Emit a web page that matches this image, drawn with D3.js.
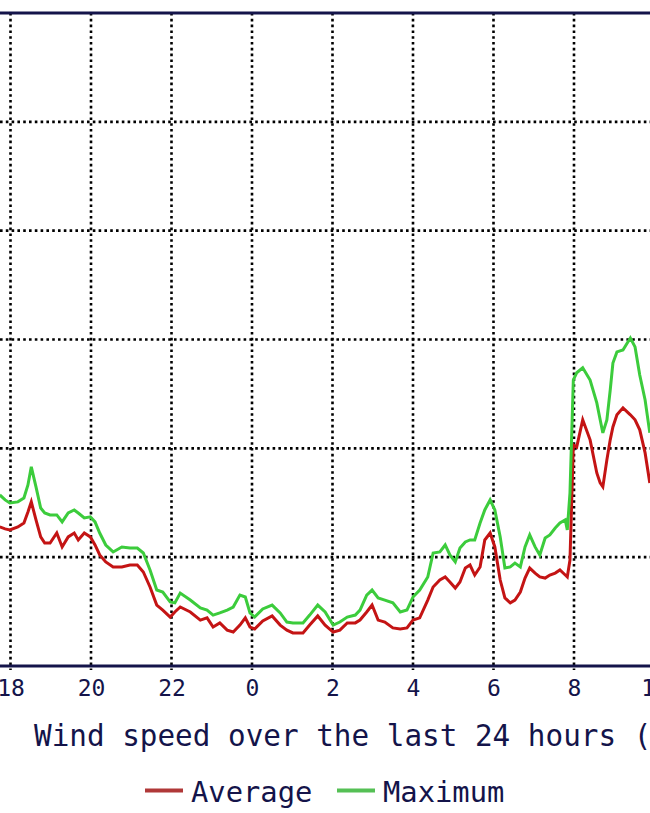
<!DOCTYPE html>
<html>
<head>
<meta charset="utf-8">
<script src="https://cdn.jsdelivr.net/npm/d3@7/dist/d3.min.js"></script>
<style>
  html, body { margin: 0; padding: 0; background: #ffffff; }
  svg { display: block; }
</style>
</head>
<body>
<script>
// Minutes since 18:00 for each sample
const minutes = [-16,-8,-1,11,20,26,31,38,45,51,59,69,77,86,95,101,110,119,126,133,142,153,166,178,189,198,208,218,227,238,245,253,268,283,293,302,312,323,332,342,350,357,364,376,390,402,412,421,436,446,458,469,481,491,502,514,521,531,539,548,558,570,581,591,600,610,622,630,640,648,655,663,670,678,685,692,700,707,715,722,730,737,745,752,760,767,774,782,789,797,804,812,819,827,830,834,839,844,853,864,874,879,883,889,894,898,904,913,924,931,938,946,953];
// Maximum wind speed
const maximum = [7.86,7.63,7.49,7.54,7.72,8.32,9.15,8.23,7.26,7.03,6.94,6.94,6.62,7.03,7.17,7.03,6.80,6.85,6.62,6.11,5.56,5.24,5.47,5.42,5.42,5.19,4.41,3.49,3.40,2.94,2.90,3.35,3.03,2.67,2.57,2.34,2.44,2.57,2.71,3.26,3.17,2.44,2.25,2.62,2.80,2.44,2.02,1.98,1.98,2.34,2.80,2.48,1.88,2.02,2.25,2.34,2.57,3.26,3.49,3.13,3.03,2.90,2.48,2.57,3.17,3.49,4.09,5.19,5.24,5.56,5.10,4.78,5.42,5.70,5.79,5.79,6.57,7.17,7.63,7.17,5.93,4.50,4.55,4.73,4.55,5.47,6.02,5.47,5.10,5.88,6.02,6.34,6.57,6.71,6.25,7.95,13.14,13.47,13.70,13.14,12.09,11.31,10.71,11.31,12.68,13.92,14.43,14.52,15.07,14.66,13.37,12.22,10.71];
// Average wind speed
const average = [6.39,6.30,6.25,6.39,6.57,7.08,7.54,6.71,5.93,5.65,5.65,6.11,5.47,5.93,6.11,5.79,6.11,5.93,5.56,5.10,4.78,4.55,4.55,4.64,4.64,4.32,3.63,2.80,2.57,2.25,2.48,2.71,2.48,2.11,2.21,1.79,1.98,1.65,1.56,1.88,2.21,1.79,1.70,2.07,2.30,1.88,1.65,1.52,1.52,1.88,2.30,1.88,1.56,1.65,1.98,1.98,2.11,2.48,2.80,2.11,2.02,1.75,1.70,1.75,2.11,2.21,3.03,3.63,3.95,4.09,3.86,3.58,3.86,4.50,4.64,4.18,4.55,5.79,6.11,5.47,3.95,3.13,2.90,3.03,3.40,4.04,4.50,4.27,4.09,4.04,4.18,4.27,4.41,4.18,4.09,4.87,10.16,10.06,11.31,10.39,8.87,8.41,8.23,9.47,10.39,10.98,11.54,11.86,11.54,11.31,10.85,9.79,8.41];
// Hour tick positions (minutes since 18:00) and their labels
const tickMinutes = [0,120,240,360,480,600,720,840,960];
const tickLabels = ["18","20","22","0","2","4","6","8","10"];
const gridValues = [5,10,15,20,25];
const seriesNames = ["Average","Maximum"];
const seriesColors = ["#c41414","#3ccc3c"];
const legendColors = ["#b03838","#55c055"];
const titleText = "Wind speed over the last 24 hours (km/h)";

const W = 650, H = 813;
const svg = d3.select("body").append("svg").attr("width", W).attr("height", H);
svg.append("rect").attr("width", W).attr("height", H).attr("fill", "#ffffff");

const x = d3.scaleLinear().domain([0, 840]).range([10.5, 574]);
const y = d3.scaleLinear().domain([0, 30]).range([666, 13]);
const navy = "#14144a";
const mono = "'DejaVu Sans Mono', 'Liberation Mono', monospace";

// horizontal dotted grid
svg.append("g").selectAll("line").data(gridValues).join("line")
  .attr("x1", 0).attr("x2", W)
  .attr("y1", d => y(d)).attr("y2", d => y(d))
  .attr("stroke", "#000").attr("stroke-width", 2.6)
  .attr("stroke-dasharray", "2.6,3.2");

// vertical dotted grid
svg.append("g").selectAll("line").data(tickMinutes).join("line")
  .attr("x1", d => x(d)).attr("x2", d => x(d))
  .attr("y1", y(30)).attr("y2", y(0) + 4)
  .attr("stroke", "#000").attr("stroke-width", 2.6)
  .attr("stroke-dasharray", "2.6,3.2");

// top frame line
svg.append("line").attr("x1", 0).attr("x2", W).attr("y1", y(30)).attr("y2", y(30))
  .attr("stroke", navy).attr("stroke-width", 3);

// x axis (baseline + labels)
const xAxis = d3.axisBottom(x).tickValues(tickMinutes)
  .tickFormat((d, i) => tickLabels[i]).tickSize(0).tickPadding(14);
const gx = svg.append("g").attr("transform", `translate(0,${y(0)})`).call(xAxis);
gx.select(".domain").remove();
gx.selectAll("text").attr("font-family", mono).attr("font-size", 23)
  .attr("fill", navy).attr("dy", "0.71em");
svg.append("line").attr("x1", 0).attr("x2", W).attr("y1", y(0)).attr("y2", y(0))
  .attr("stroke", navy).attr("stroke-width", 3);

// data lines
const data = minutes.map((m, i) => ({ m, avg: average[i], max: maximum[i] }));
const lineAvg = d3.line().x(d => x(d.m)).y(d => y(d.avg));
const lineMax = d3.line().x(d => x(d.m)).y(d => y(d.max));
svg.append("path").datum(data).attr("d", lineAvg)
  .attr("fill", "none").attr("stroke", seriesColors[0]).attr("stroke-width", 3)
  .attr("stroke-linejoin", "miter");
svg.append("path").datum(data).attr("d", lineMax)
  .attr("fill", "none").attr("stroke", seriesColors[1]).attr("stroke-width", 3)
  .attr("stroke-linejoin", "miter");

// title
svg.append("text").attr("x", 34).attr("y", 746)
  .attr("font-family", mono).attr("font-size", 29.3).attr("fill", navy)
  .text(titleText);

// legend
const legendX = [145, 337];
const lg = svg.append("g");
seriesNames.forEach((name, i) => {
  lg.append("rect").attr("x", legendX[i]).attr("y", 788.5).attr("width", 38).attr("height", 4)
    .attr("fill", legendColors[i]);
  lg.append("text").attr("x", legendX[i] + 46).attr("y", 802)
    .attr("font-family", mono).attr("font-size", 28.8).attr("fill", navy)
    .text(name);
});
</script>
</body>
</html>
